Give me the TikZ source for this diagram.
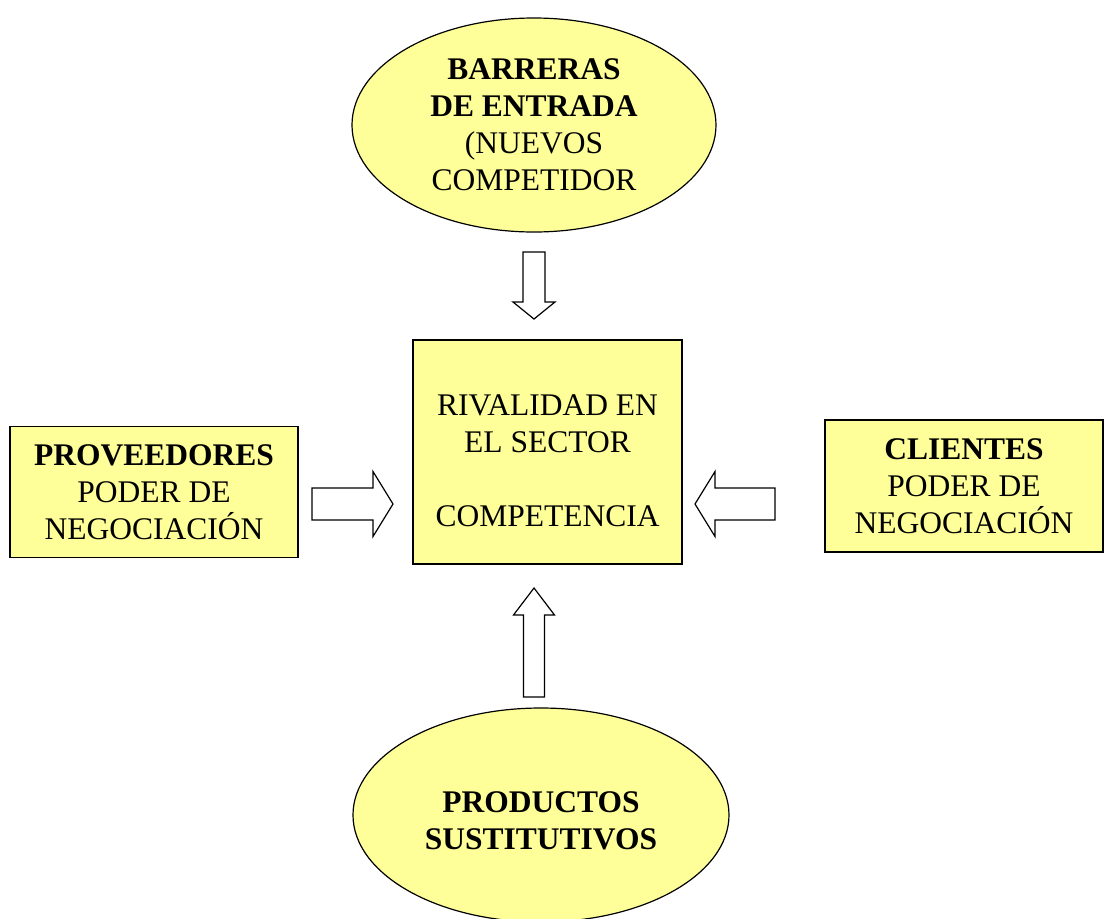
\documentclass[tikz,border=0pt]{standalone}
\usepackage{fontspec}
\setmainfont{Liberation Serif}
\usetikzlibrary{shapes.geometric}
\definecolor{amarillo}{HTML}{FFFF99}

\begin{document}
\begin{tikzpicture}[x=1pt,y=-1pt,
  caja/.style={draw=black, line width=1.4pt, fill=amarillo, rectangle, align=center, inner sep=0pt, font=\fontsize{31.5}{37}\selectfont},
  elipse/.style={caja, ellipse, line width=1.2pt},
  flecha/.style={draw=black, line width=1.2pt, fill=white, line join=miter}]
\useasboundingbox (0,0) rectangle (1104,919);
% centro
\node[caja, minimum width=269pt, minimum height=224pt] (rivalidad) at (547.5,452) {\rule{0pt}{39pt}RIVALIDAD EN\\EL SECTOR\\[37pt]COMPETENCIA};
% fuerzas
\node[elipse, minimum width=364pt, minimum height=214pt] (barreras) at (534,125) {\textbf{BARRERAS}\\\textbf{DE ENTRADA}\\(NUEVOS\\COMPETIDOR};
\node[elipse, minimum width=376pt, minimum height=214pt] (sustitutos) at (541,815) {\rule{0pt}{33pt}\textbf{PRODUCTOS}\\\textbf{SUSTITUTIVOS}};
\node[caja, minimum width=288pt, minimum height=131pt] (proveedores) at (154,492) {\textbf{PROVEEDORES}\\PODER DE\\NEGOCIACIÓN};
\node[caja, minimum width=278pt, minimum height=132pt] (clientes) at (964,486) {\textbf{CLIENTES}\\PODER DE\\NEGOCIACIÓN};
% flechas
\foreach \x/\y/\ang/\len/\ancho/\cabeza/\punta in {534/252/-90/67/22/42/17, 534/697/90/109/21/41/27, 312/504/0/81/32/65/20, 775/504/180/80/32/65/20}
  \draw[flecha, shift={(\x,\y)}, rotate=\ang] (0,{-\ancho/2}) -- ({\len-\punta},{-\ancho/2}) -- ({\len-\punta},{-\cabeza/2}) -- (\len,0) -- ({\len-\punta},{\cabeza/2}) -- ({\len-\punta},{\ancho/2}) -- (0,{\ancho/2}) -- cycle;
\end{tikzpicture}
\end{document}
